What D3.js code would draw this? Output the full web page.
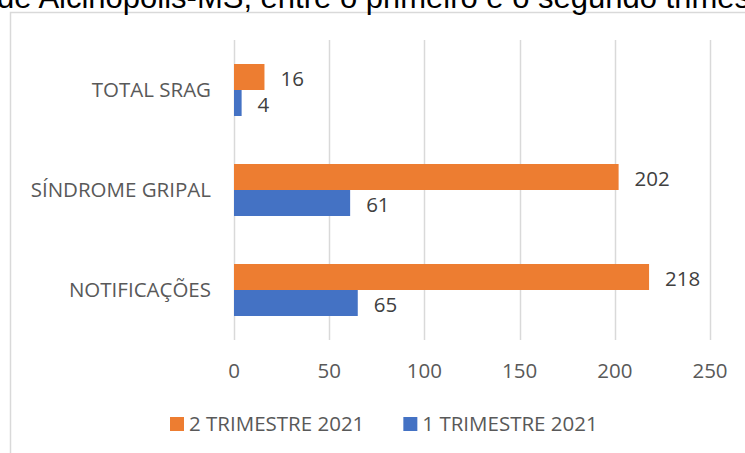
<!DOCTYPE html>
<html>
<head>
<meta charset="utf-8">
<script src="https://cdn.jsdelivr.net/npm/d3@7"></script>
<style>
  html, body { margin: 0; padding: 0; background: #fff; }
  svg { display: block; }
</style>
</head>
<body>
<div id="chart"></div>
<script>
const categories = ["TOTAL SRAG", "SÍNDROME GRIPAL", "NOTIFICAÇÕES"];
const series_names = ["2 TRIMESTRE 2021", "1 TRIMESTRE 2021"];
const trimestre_2 = [16, 202, 218];
const trimestre_1 = [4, 61, 65];
const x_ticks = [0, 50, 100, 150, 200, 250];
const titulo = "de Alcinópolis-MS, entre o primeiro e o segundo trimestre de 2021";

const width = 745;
const height = 453;
const font = "'Open Sans', sans-serif";

const data = categories.map((c, i) => ({
  cat: c,
  "2 TRIMESTRE 2021": trimestre_2[i],
  "1 TRIMESTRE 2021": trimestre_1[i],
}));

const color = d3.scaleOrdinal().domain(series_names).range(["#ED7D31", "#4472C4"]);

const svg = d3.select("#chart")
  .append("svg")
  .attr("width", width)
  .attr("height", height);

// moldura do grafico
svg.append("rect")
  .attr("x", 10.5)
  .attr("y", 12.5)
  .attr("width", 900)
  .attr("height", 600)
  .attr("fill", "none")
  .attr("stroke", "#d9d9d9")
  .attr("stroke-width", 1.5);

// titulo (cortado no topo, como na imagem original)
svg.append("text")
  .attr("x", -3)
  .attr("y", 8)
  .attr("font-family", "'Liberation Sans', Arial, sans-serif")
  .attr("font-size", 31)
  .attr("fill", "#000")
  .text(titulo);

// Eixo x
const x = d3.scaleLinear()
  .domain([0, 250])
  .range([234, 710]);

// Eixo y
const y0 = d3.scaleBand()
  .domain(categories)
  .range([40, 340]);

const y1 = d3.scaleBand()
  .domain(series_names)
  .range([24, 76]);

// grade
svg.append("g")
  .selectAll("line")
  .data(x_ticks)
  .join("line")
  .attr("x1", (d) => Math.round(x(d)) + 0.5)
  .attr("x2", (d) => Math.round(x(d)) + 0.5)
  .attr("y1", 40)
  .attr("y2", 340)
  .attr("stroke", "#d9d9d9")
  .attr("stroke-width", 1.5);

// rotulos do eixo x
svg.append("g")
  .selectAll("text")
  .data(x_ticks)
  .join("text")
  .attr("x", (d) => x(d))
  .attr("y", 371)
  .attr("dy", "0.35em")
  .attr("text-anchor", "middle")
  .attr("font-family", font)
  .attr("font-size", 20.5)
  .attr("fill", "#595959")
  .text((d) => d);

// rotulos das categorias
svg.append("g")
  .selectAll("text")
  .data(categories)
  .join("text")
  .attr("x", 211)
  .attr("y", (d) => y0(d) + y0.bandwidth() / 2)
  .attr("dy", "0.35em")
  .attr("text-anchor", "end")
  .attr("font-family", font)
  .attr("font-size", 20.5)
  .attr("fill", "#595959")
  .text((d) => d);

// barras
const groups = svg.append("g")
  .selectAll("g")
  .data(data)
  .join("g")
  .attr("transform", (d) => `translate(0,${ y0(d.cat) })`);

groups.selectAll("rect")
  .data((d) => series_names.map((key) => ({ key, value: d[key] })))
  .join("rect")
  .attr("x", x(0))
  .attr("y", (d) => y1(d.key))
  .attr("width", (d) => x(d.value) - x(0))
  .attr("height", y1.bandwidth())
  .attr("fill", (d) => color(d.key));

groups.selectAll("text")
  .data((d) => series_names.map((key) => ({ key, value: d[key] })))
  .join("text")
  .attr("x", (d) => x(d.value) + 16)
  .attr("y", (d) => y1(d.key) + y1.bandwidth() / 2 + 1.5)
  .attr("dy", "0.35em")
  .attr("font-family", font)
  .attr("font-size", 20.5)
  .attr("fill", "#404040")
  .text((d) => d.value);

// Legendas
const legend = svg.append("g").attr("transform", "translate(170,424)");
let lx = 0;
series_names.forEach((name) => {
  const g = legend.append("g").attr("transform", `translate(${ lx },0)`);
  g.append("rect")
    .attr("x", 0)
    .attr("y", -7)
    .attr("width", 14)
    .attr("height", 14)
    .attr("fill", color(name));
  const t = g.append("text")
    .attr("x", 19)
    .attr("dy", "0.35em")
    .attr("font-family", font)
    .attr("font-size", 20.5)
    .attr("fill", "#595959")
    .text(name);
  lx += 19 + t.node().getComputedTextLength() + 39;
});
</script>
</body>
</html>
